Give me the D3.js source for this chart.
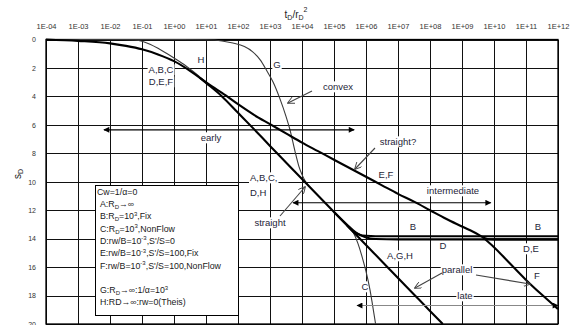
<!DOCTYPE html>
<html><head><meta charset="utf-8">
<script src="https://cdn.jsdelivr.net/npm/d3@7"></script>
<style>
body{margin:0;background:#fff}
svg{display:block;font-family:"Liberation Sans",Arial,sans-serif}
</style></head><body>
<svg id="chart" width="574" height="325"></svg>
<script>
// x values are log10(tD/rD^2), y values are sD
const xTicks = [-4,-3,-2,-1,0,1,2,3,4,5,6,7,8,9,10,11,12];
const xTickLabels = ["1E-04","1E-03","1E-02","1E-01","1E+00","1E+01","1E+02","1E+03","1E+04",
  "1E+05","1E+06","1E+07","1E+08","1E+09","1E+10","1E+11","1E+12"];
const yTicks = [0,2,4,6,8,10,12,14,16,18,20];

// A (common early part, then infinite aquifer straight line)
const logT_A = [-4,-3,-2,-1.5,-1,-0.5,0,0.5,0.8,1,1.5,2,2.5,3,3.5,4,4.5,5,5.5,6,6.5,7,7.5,8,8.4];
const s_A = [0,0.1,0.27,0.45,0.69,1.05,1.52,2.2,2.68,3.05,4.0,5.15,6.3,7.48,8.64,9.8,10.96,12.12,13.28,14.44,15.6,16.76,17.92,19.08,20.0];
// E,F leaky branch
const logT_EF = [0.8,1.2,1.5,2,2.5,3,3.5,4,4.5,5,5.5,6,6.5,7,7.5,8,8.5,9,9.5,9.66];
const s_EF = [2.68,3.32,3.75,4.55,5.3,5.95,6.6,7.25,7.85,8.45,9.05,9.65,10.25,10.85,11.4,12.0,12.6,13.15,13.7,13.92];
const logT_E = [9.66,9.8,10,12];
const s_E = [13.92,14.02,14.05,14.05];
const logT_F = [9.66,10,10.5,11,11.5,12];
const s_F = [13.92,14.6,15.75,16.9,17.95,18.95];
// B fixed boundary, D leaky S'/S=0
const logT_B = [5.4,5.6,5.8,6.0,6.3,12];
const s_B = [13.05,13.5,13.72,13.8,13.83,13.83];
const logT_D = [5.0,5.4,5.7,6.0,6.3,7,12];
const s_D = [12.12,13.0,13.6,13.92,14.02,14.05,14.05];
// C no-flow boundary (thin)
const logT_C = [5.4,5.6,5.75,5.9,6.0,6.125,6.2,6.3];
const s_C = [13.05,13.55,14.35,15.45,16.3,17.6,18.6,20.0];
// G wellbore storage (thin)
const logT_G = [-4,0,1,1.5,1.84,2.2,2.45,2.7,2.9,3.1,3.3,3.5,3.625,3.78,3.9,4.0,4.1,4.3];
const s_G = [0,0,0.02,0.1,0.25,0.5,0.85,1.45,2.2,3.0,4.1,5.4,6.35,7.85,8.9,9.5,9.95,10.5];
// H Theis (thin)
const logT_H = [-4,-1.6,-1.3,-1.0,-0.75,-0.5,-0.25,0,0.375,0.6,0.8];
const s_H = [0,0,0.03,0.12,0.33,0.62,0.95,1.3,1.86,2.25,2.62];

const legendLines = [
  [["Cw=1/α=0"]],
  [["A:R"],["D","sub"],["→∞"]],
  [["B:R"],["D","sub"],["=10"],["3","sup"],[",Fix"]],
  [["C:R"],["D","sub"],["=10"],["3","sup"],[",NonFlow"]],
  [["D:rw/B=10"],["-3","sup"],[",S'/S=0"]],
  [["E:rw/B=10"],["-3","sup"],[",S'/S=100,Fix"]],
  [["F:rw/B=10"],["-3","sup"],[",S'/S=100,NonFlow"]],
  [],
  [["G:R"],["D","sub"],["→∞:1/α=10"],["3","sup"]],
  [["H:RD→∞:rw=0(Theis)"]]
];

const svg = d3.select('#chart');
const x = d3.scaleLinear().domain([-4,12]).range([46,558]);
const y = d3.scaleLinear().domain([0,20]).range([39.5,324]);
const zip = (a,b) => a.map((v,i)=>[v,b[i]]);

const gridG = svg.append('g');
const maskG = svg.append('g');
const curveG = svg.append('g');
const textG = svg.append('g');

// grid + top labels
const xAx = gridG.append('g').attr('transform',`translate(0,${y(0)})`)
  .call(d3.axisTop(x).tickValues(xTicks).tickFormat((d,i)=>xTickLabels[i])
    .tickSize(-(y(20)-y(0))).tickSizeOuter(0).tickPadding(10.5));
const yAx = gridG.append('g').attr('transform',`translate(${x(-4)},0)`)
  .call(d3.axisLeft(y).tickValues(yTicks).tickSize(-(x(12)-x(-4))).tickSizeOuter(0).tickPadding(10));
[xAx,yAx].forEach(a=>{
  a.select('.domain').remove();
  a.selectAll('line').attr('stroke','#111').attr('shape-rendering','crispEdges');
  a.selectAll('text').attr('font-size',7.5).attr('fill','#333')
    .attr('font-family','"Liberation Sans",Arial,sans-serif');
});
yAx.selectAll('text').attr('font-size',7);
gridG.append('rect').attr('x',x(-4)).attr('y',y(0)).attr('width',x(12)-x(-4)).attr('height',y(20)-y(0))
  .attr('fill','none').attr('stroke','#000').attr('stroke-width',1.3);

// axis titles
const title = textG.append('text').attr('x',296).attr('y',18).attr('text-anchor','middle')
  .attr('font-size',10).attr('fill','#222');
title.append('tspan').text('t');
title.append('tspan').attr('font-size',7).attr('dy',2).text('D');
title.append('tspan').attr('dy',-2).text('/r');
title.append('tspan').attr('font-size',7).attr('dy',2).text('D');
title.append('tspan').attr('font-size',7).attr('dy',-8).text('2');
const yt = textG.append('text').attr('transform','translate(21,174) rotate(-90)')
  .attr('text-anchor','middle').attr('font-size',10).attr('fill','#222');
yt.append('tspan').text('s');
yt.append('tspan').attr('font-size',7).attr('dy',2).text('D');

// legend box
const lg = {x0:95,y0:185,x1:238,y1:315};
maskG.append('rect').attr('x',lg.x0).attr('y',lg.y0).attr('width',lg.x1-lg.x0).attr('height',lg.y1-lg.y0)
  .attr('fill','#fff').attr('stroke','#000').attr('stroke-width',1).attr('shape-rendering','crispEdges');
legendLines.forEach((parts,i)=>{
  if(!parts.length) return;
  const t = textG.append('text').attr('x', i===0 ? 97 : 100).attr('y', 194.7 + 12.3*i)
    .attr('font-size',8.8).attr('fill','#1a1a1a');
  let shift = 0;
  parts.forEach(([str,kind])=>{
    let target = kind==='sub' ? 2 : kind==='sup' ? -3.5 : 0;
    t.append('tspan').attr('dy',target-shift).attr('font-size',kind ? 6 : 8.8).text(str);
    shift = target;
  });
});

// curves
const line = d3.line().x(d=>x(d[0])).y(d=>y(d[1])).curve(d3.curveMonotoneX);
const thick = [[logT_A,s_A],[logT_EF,s_EF],[logT_E,s_E],[logT_F,s_F],[logT_B,s_B],[logT_D,s_D]];
const thin = [[logT_C,s_C],[logT_G,s_G],[logT_H,s_H]];
thin.forEach(([a,b])=>curveG.append('path').attr('d',line(zip(a,b)))
  .attr('fill','none').attr('stroke','#3a3a3a').attr('stroke-width',1.1));
thick.forEach(([a,b])=>curveG.append('path').attr('d',line(zip(a,b)))
  .attr('fill','none').attr('stroke','#000').attr('stroke-width',2.1));

// arrow markers
const defs = svg.append('defs');
defs.append('marker').attr('id','tri').attr('viewBox','0 0 10 10').attr('refX',9).attr('refY',5)
  .attr('markerWidth',7).attr('markerHeight',6).attr('markerUnits','userSpaceOnUse').attr('orient','auto-start-reverse')
  .append('path').attr('d','M0,0L10,5L0,10Z').attr('fill','#000');
defs.append('marker').attr('id','vee').attr('viewBox','0 0 10 10').attr('refX',9).attr('refY',5)
  .attr('markerWidth',8).attr('markerHeight',7).attr('markerUnits','userSpaceOnUse').attr('orient','auto')
  .append('path').attr('d','M0,0L10,5L0,10').attr('fill','none').attr('stroke','#444').attr('stroke-width',1.3);

const arrow = (x1,y1,x2,y2,both,color,marker)=>{
  const p = curveG.append('line').attr('x1',x1).attr('y1',y1).attr('x2',x2).attr('y2',y2)
    .attr('stroke',color).attr('stroke-width',1.1).attr('marker-end',`url(#${marker})`);
  if(both) p.attr('marker-start',`url(#${marker})`);
};
arrow(x(-2.19),y(6.35),x(5.63),y(6.35),true,'#000','tri');    // early
arrow(x(3.72),y(11.48),x(9.9),y(11.48),true,'#000','tri');     // intermediate
arrow(x(5.72),y(18.7),x(12),y(18.7),true,'#888','tri');        // late
arrow(312,91,288,103,false,'#444','vee');                      // convex
arrow(375,148,355,169,false,'#444','vee');                     // straight?
arrow(280,216,305,187,false,'#444','vee');                     // straight
arrow(442,273,415,288,false,'#444','vee');                     // parallel
arrow(476,275,530,284,false,'#444','vee');                     // parallel

// labels with white background
const labels = [
  ['H',201,60,'middle'],['G',277,65,'middle'],['A,B,C',161,70,'middle'],['D,E,F',161,82,'middle'],
  ['convex',338,87,'middle'],['early',211,138,'middle'],['straight?',398,142,'middle'],
  ['E,F',386,175,'middle'],['A,B,C,',250,178,'start'],['D,H',250,193,'start'],
  ['intermediate',453,191,'middle'],['straight',270,223,'middle'],['B',413,227,'middle'],
  ['B',538,227,'middle'],['D',443,246,'middle'],['D,E',531,249,'middle'],['A,G,H',400,256,'middle'],
  ['parallel',457,270,'middle'],['F',537,276,'middle'],['C',365,287,'middle'],['late',465,296,'middle']
];
labels.forEach(([str,lx,ly,anchor])=>{
  const t = textG.append('text').attr('x',lx).attr('y',ly).attr('dy','0.35em')
    .attr('text-anchor',anchor).attr('font-size',9.5).attr('fill','#1e1e38').text(str);
  const bb = t.node().getBBox();
  maskG.append('rect').attr('x',bb.x-1).attr('y',bb.y).attr('width',bb.width+2).attr('height',bb.height)
    .attr('fill','#fff');
});
</script>
</body></html>
